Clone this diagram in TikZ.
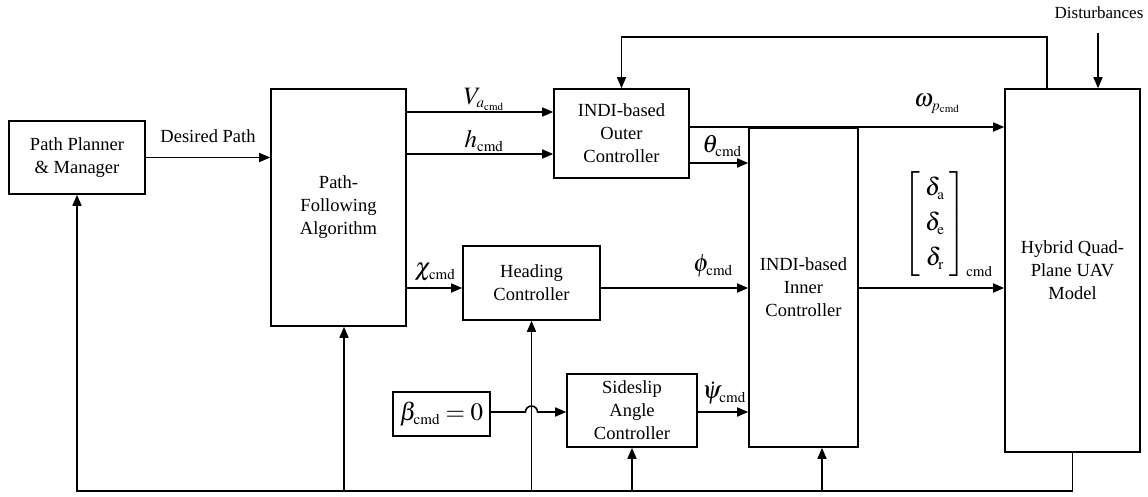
\documentclass[tikz,border=0pt]{standalone}
\usepackage{mathptmx}
\usepackage{fontspec}
\setmainfont{Liberation Serif}
\DeclareMathSizes{25}{25}{15}{11}
\usetikzlibrary{arrows.meta}
\begin{document}
\begin{tikzpicture}[x=1pt,y=-1pt,
  blk/.style={draw, line width=1.6pt, align=center, font=\fontsize{18.5}{23}\selectfont, inner sep=0pt},
  arr/.style={line width=1.6pt, -{Triangle[length=11pt,width=9pt]}},
  ln/.style={line width=1.6pt},
  lab/.style={font=\fontsize{25}{26}\selectfont, inner sep=0pt},
  txt/.style={font=\fontsize{18.5}{23}\selectfont, inner sep=0pt}]
\useasboundingbox (0,0) rectangle (1148,496);
% blocks
\node[blk, minimum width=136pt, minimum height=73pt] (pp) at (77,157.5) {Path Planner\\\& Manager};
\node[blk, minimum width=135pt, minimum height=237pt] (pf) at (338.5,207.5) {Path-\\Following\\Algorithm};
\node[blk, minimum width=135pt, minimum height=89pt] (outer) at (621.5,133.5) {INDI-based\\Outer\\Controller};
\node[blk, minimum width=109pt, minimum height=319pt] (inner) at (803.5,287.5) {INDI-based\\Inner\\Controller};
\node[blk, minimum width=135pt, minimum height=363pt] (hyb) at (1072.5,270.5) {Hybrid Quad-\\Plane UAV\\Model};
\node[blk, minimum width=137pt, minimum height=74pt] (head) at (531.5,283) {Heading\\Controller};
\node[blk, font=\fontsize{25}{26}\selectfont, minimum width=97pt, minimum height=44pt] (beta) at (441.5,414) {$\beta_{\mathrm{cmd}}=0$};
\node[blk, minimum width=130pt, minimum height=73pt] (side) at (632,410.5) {Sideslip\\Angle\\Controller};
% helper coordinates
\coordinate (yV) at (0,112);
\coordinate (yH) at (0,154);
\coordinate (yW) at (0,127);
\coordinate (yT) at (0,163);
\coordinate (yC) at (0,288);
\coordinate (yB) at (0,412);
\coordinate (yBot) at (0,491);
\coordinate (fb) at (1047,37);
\coordinate (dtop) at (1098,33);
\coordinate (b1) at (344,491);
\coordinate (b4) at (822,491);
% connectors
\draw[arr] (pp.east) -- (pp.east -| pf.west);
\draw[arr] (pf.east |- yV) -- (outer.west |- yV);
\draw[arr] (pf.east |- yH) -- (outer.west |- yH);
\draw[arr] (outer.east |- yW) -- (hyb.west |- yW);
\draw[arr] (outer.east |- yT) -- (inner.west |- yT);
\draw[arr] (fb |- hyb.north) -- (fb) -| (outer.north);
\draw[arr] (dtop) -- (dtop |- hyb.north);
\draw[arr] (pf.east |- yC) -- (head.west |- yC);
\draw[arr] (head.east |- yC) -- (inner.west |- yC);
\draw[arr] (inner.east |- yC) -- (hyb.west |- yC);
\draw[arr] (side.east |- yB) -- (inner.west |- yB);
\draw[arr] (beta.east |- yB) -- (525.5,412) arc (180:360:6) -- (side.west |- yB);
\draw[arr] (hyb.south) |- (pp.south |- yBot) -- (pp.south);
\draw[arr] (b1) -- (b1 |- pf.south);
\draw[arr] (head.south |- yBot) -- (head.south);
\draw[arr] (side.south |- yBot) -- (side.south);
\draw[arr] (b4) -- (b4 |- inner.south);
% labels
\node[txt, font=\fontsize{17}{20}\selectfont] (dist) at (1099,13) {Disturbances};
\node[txt] (ldp) at (208,136) {Desired Path};
\node[lab] (lV) at (484,99) {$V_{a_{\mathrm{cmd}}}$};
\node[lab] (lh) at (484,141) {$h_{\mathrm{cmd}}$};
\node[lab] (lw) at (937,104) {$\omega_{p_{\mathrm{cmd}}}$};
\node[lab] (lt) at (722,146) {$\theta_{\mathrm{cmd}}$};
\node[lab] (lc) at (435,272) {$\chi_{\mathrm{cmd}}$};
\node[lab] (lf) at (713,266) {$\phi_{\mathrm{cmd}}$};
\node[lab] (lp) at (724,393) {$\dot\psi_{\mathrm{cmd}}$};
\node[lab] (ld) at (948,224) {$\renewcommand{\arraystretch}{1.35}\left[\begin{array}{c}\delta_{\mathrm{a}}\\ \delta_{\mathrm{e}}\\ \delta_{\mathrm{r}}\end{array}\right]_{\mathrm{cmd}}$};
\end{tikzpicture}
\end{document}
